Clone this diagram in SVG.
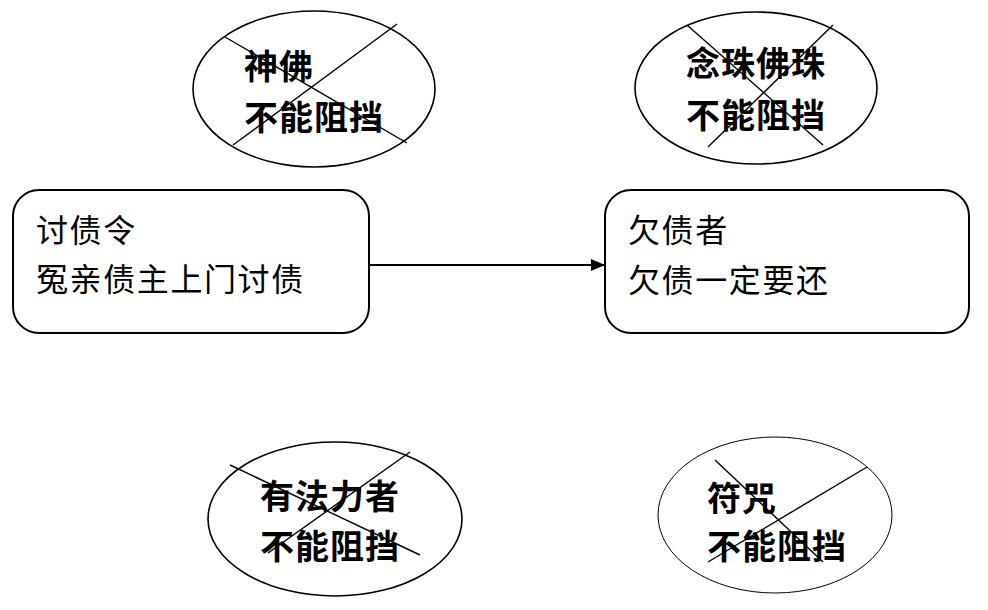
<svg xmlns="http://www.w3.org/2000/svg" width="988" height="610" viewBox="0 0 988 610">
<defs>
<style>
.box{fill:#fff;stroke:#000;stroke-width:2}
.ell{fill:none;stroke:#000;stroke-width:1.6}
.x{stroke:#000;stroke-width:1.4}
.t{font-family:"Noto Sans CJK SC","Noto Sans CJK TC",sans-serif;font-size:32px;letter-spacing:1.6px;fill:#000}
.b{font-family:"Noto Sans CJK SC","Noto Sans CJK TC",sans-serif;font-size:34px;font-weight:bold;letter-spacing:1px;fill:#000}
.c{stroke:#000;stroke-width:2;fill:none}
</style>
<marker id="arr" markerWidth="14" markerHeight="14" refX="13" refY="7" orient="auto" markerUnits="userSpaceOnUse">
<path d="M0,1 L14,7 L0,13 Z" fill="#000"/>
</marker>
</defs>
<rect width="988" height="610" fill="#fff"/>
<g id="connectors">
<line class="c" x1="370" y1="265" x2="604" y2="265" marker-end="url(#arr)"/>
</g>
<g id="node-taozhai">
<rect class="box" x="13" y="190" width="356" height="143" rx="26"/>
<text class="t" x="36" y="242">讨债令</text>
<text class="t" x="36" y="291">冤亲债主上门讨债</text>
</g>
<g id="node-qianzhai">
<rect class="box" x="605" y="190" width="364" height="143" rx="26"/>
<text class="t" x="628" y="242">欠债者</text>
<text class="t" x="628" y="292">欠债一定要还</text>
</g>
<g id="node-shenfo">
<ellipse class="ell" cx="314" cy="89" rx="121" ry="78"/>
<text class="b" x="244" y="79">神佛</text>
<text class="b" x="244" y="130">不能阻挡</text>
<line class="x" x1="225" y1="37" x2="407" y2="143"/>
<line class="x" x1="397" y1="24" x2="233" y2="145"/>
</g>
<g id="node-nianzhu">
<ellipse class="ell" cx="756" cy="88" rx="121" ry="76"/>
<text class="b" x="686" y="76">念珠佛珠</text>
<text class="b" x="686" y="128">不能阻挡</text>
<line class="x" x1="687" y1="25" x2="823" y2="145"/>
<line class="x" x1="833" y1="25" x2="708" y2="147"/>
</g>
<g id="node-youfali">
<ellipse class="ell" cx="335" cy="519" rx="127" ry="77"/>
<text class="b" x="260" y="509">有法力者</text>
<text class="b" x="260" y="559">不能阻挡</text>
<line class="x" x1="230" y1="465" x2="420" y2="555"/>
<line class="x" x1="410" y1="452" x2="268" y2="553"/>
</g>
<g id="node-fuzhou">
<ellipse class="ell" cx="775" cy="515" rx="117" ry="78" style="stroke-width:1"/>
<text class="b" x="707" y="511">符咒</text>
<text class="b" x="707" y="559">不能阻挡</text>
<line class="x" x1="715" y1="460" x2="823" y2="562"/>
<line class="x" x1="867" y1="467" x2="708" y2="562"/>
</g>
</svg>
